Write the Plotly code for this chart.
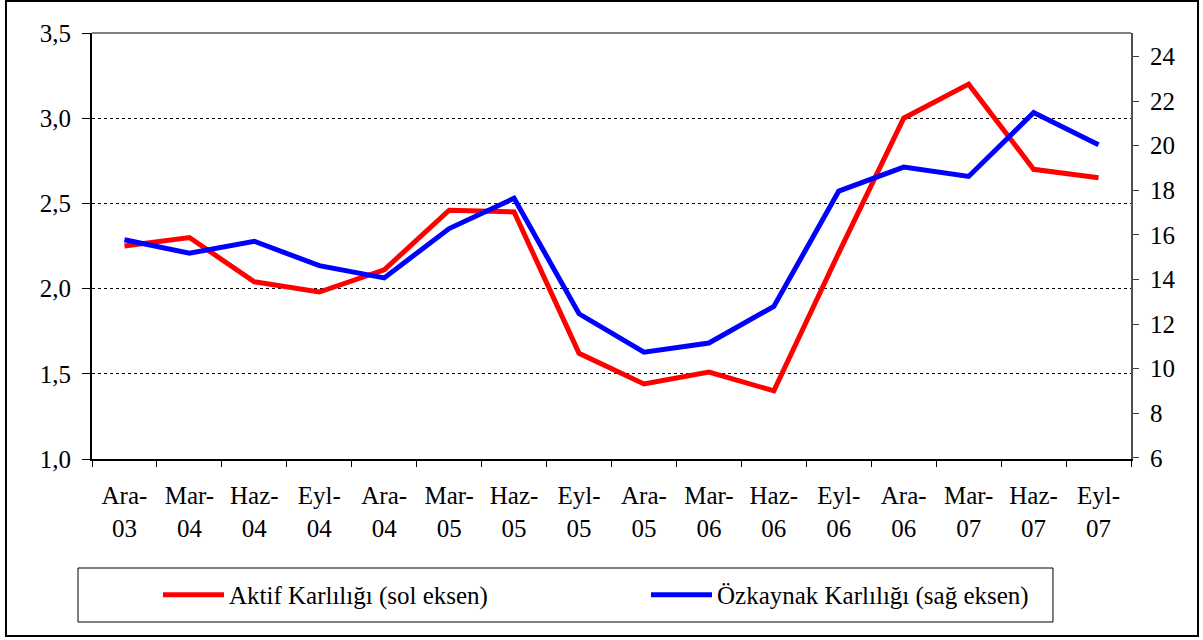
import plotly.graph_objects as go

categories = ["Ara-<br>03", "Mar-<br>04", "Haz-<br>04", "Eyl-<br>04", "Ara-<br>04", "Mar-<br>05",
              "Haz-<br>05", "Eyl-<br>05", "Ara-<br>05", "Mar-<br>06", "Haz-<br>06", "Eyl-<br>06",
              "Ara-<br>06", "Mar-<br>07", "Haz-<br>07", "Eyl-<br>07"]
aktif = [2.25, 2.30, 2.04, 1.98, 2.11, 2.46, 2.45, 1.62, 1.44, 1.51, 1.40, 2.21, 3.00, 3.20, 2.70, 2.65]
ozkaynak = [15.78, 15.18, 15.71, 14.62, 14.07, 16.28, 17.64, 12.46, 10.74, 11.15, 12.79, 17.96,
            19.04, 18.62, 21.48, 20.04]
left_ticks = [1.0, 1.5, 2.0, 2.5, 3.0, 3.5]
left_ticktext = ["1,0", "1,5", "2,0", "2,5", "3,0", "3,5"]
right_ticks = [6, 8, 10, 12, 14, 16, 18, 20, 22, 24]

FONT = "Liberation Serif"

fig = go.Figure()
fig.add_trace(go.Scatter(x=categories, y=aktif, mode="lines", name="Aktif Karlılığı (sol eksen)",
                         line=dict(color="#ff0000", width=5)))
fig.add_trace(go.Scatter(x=categories, y=ozkaynak, mode="lines", name="Özkaynak Karlılığı (sağ eksen)",
                         line=dict(color="#0000ff", width=5), yaxis="y2"))

fig.update_layout(
    width=1203, height=640,
    margin=dict(l=92, r=72, t=33, b=181),
    paper_bgcolor="white", plot_bgcolor="white",
    font=dict(family=FONT, size=25, color="black"),
    xaxis=dict(type="category", range=[-0.5, 15.5], tickson="boundaries", ticks="outside", ticklen=6,
               tickcolor="black", showline=True, linecolor="black", linewidth=2, showgrid=False,
               tickfont=dict(family=FONT, size=25), ticklabelstandoff=13, automargin=False),
    yaxis=dict(range=[1.0, 3.5], tickvals=left_ticks, ticktext=left_ticktext,
               ticks="outside", ticklen=8, tickcolor="black", showline=True, linecolor="black", linewidth=2,
               showgrid=True, gridcolor="black", griddash="dot", gridwidth=1, zeroline=False,
               tickfont=dict(family=FONT, size=25), ticklabelstandoff=6, automargin=False),
    yaxis2=dict(range=[5.95, 25.05], tickvals=right_ticks, overlaying="y", side="right",
                ticks="outside", ticklen=6, tickcolor="#404040", showline=True, linecolor="#505050", linewidth=2,
                showgrid=False, zeroline=False, tickfont=dict(family=FONT, size=25),
                ticklabelstandoff=6, automargin=False),
    showlegend=True,
    legend=dict(orientation="h", x=0.0635, xanchor="left", y=-0.319, yanchor="middle",
                entrywidth=412, itemwidth=61, font=dict(family=FONT, size=25), bgcolor="rgba(0,0,0,0)"),
    shapes=[
        dict(type="line", xref="paper", yref="paper", x0=0, x1=1, y0=1, y1=1,
             line=dict(color="#808080", width=2)),
        dict(type="rect", xref="paper", yref="paper", x0=-0.01347, x1=0.9249, y0=-0.2559, y1=-0.3826,
             line=dict(color="black", width=1)),
        dict(type="rect", xref="paper", yref="paper", x0=-0.0828, x1=1.0645, y0=1.075, y1=-0.4155,
             line=dict(color="black", width=2)),
    ],
)

fig.write_html("out.html", config={"displayModeBar": False},
               post_script="document.body.style.margin='0px';")
